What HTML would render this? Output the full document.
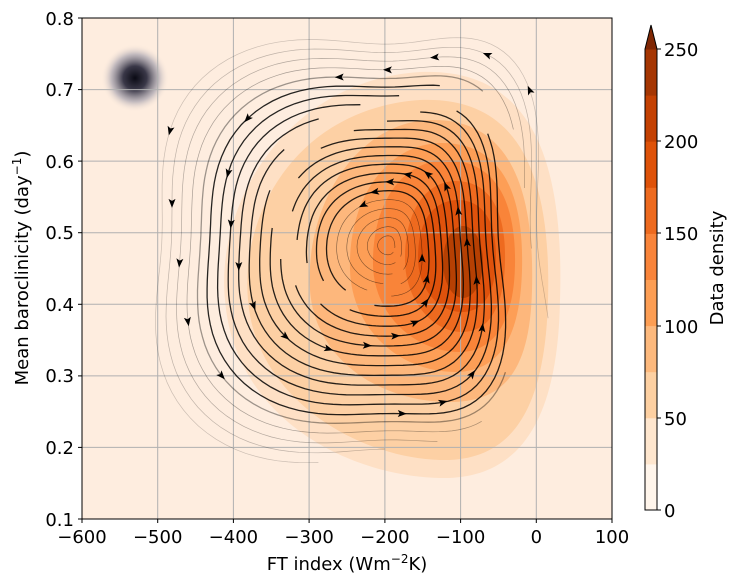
<!DOCTYPE html>
<html><head><meta charset="utf-8"><style>
body{margin:0;background:#fff;width:735px;height:583px;overflow:hidden;font-family:"DejaVu Sans","Liberation Sans",sans-serif}
</style></head><body>
<svg id="s" width="735" height="583" viewBox="0 0 735 583" xmlns="http://www.w3.org/2000/svg" font-family="DejaVu Sans, Liberation Sans, sans-serif">
<defs>
<radialGradient id="bk"><stop offset="0" stop-color="#0a0a14"/><stop offset="0.35" stop-color="#3a3848"/><stop offset="0.7" stop-color="#a8a4b0" stop-opacity="0.7"/><stop offset="1" stop-color="#feeddf" stop-opacity="0"/></radialGradient>
<clipPath id="cp"><rect x="82" y="18" width="530" height="501"/></clipPath>
</defs>
<rect x="82" y="18" width="530" height="501" fill="#feeddf"/>
<g clip-path="url(#cp)">
<path d="M225,300 C215,200 290,80 420,72 C520,68 565,140 560,300 C558,420 520,480 440,478 C350,476 235,420 225,300Z" fill="#fee0c5"/>
<path d="M248,300 C240,210 300,108 420,100 C510,96 552,160 548,300 C545,410 512,462 440,460 C360,458 256,400 248,300Z" fill="#fdd0a4"/>
<path d="M310,290 C305,200 360,122 430,120 C505,118 535,180 532,290 C530,370 505,402 450,402 C380,402 315,360 310,290Z" fill="#fdb77c"/>
<path d="M350,270 C348,200 385,145 440,143 C500,142 524,190 522,270 C520,340 498,372 455,372 C400,372 352,330 350,270Z" fill="#fd9e56"/>
<path d="M373,265 C372,205 400,162 445,160 C495,160 516,200 515,265 C514,320 495,352 460,352 C415,352 374,315 373,265Z" fill="#f98439"/>
<path d="M405,262 C404,212 425,182 455,181 C490,181 506,210 505,262 C504,305 490,332 462,332 C432,332 406,300 405,262Z" fill="#ee6a1f"/>
<path d="M418,258 C418,222 432,201 457,200 C484,200 496,222 496,258 C496,292 484,312 462,312 C438,312 418,288 418,258Z" fill="#df520c"/>
<ellipse cx="463" cy="262" rx="20" ry="36" fill="#b64003"/>
<circle cx="135" cy="78" r="34" fill="url(#bk)"/>
<g stroke="#b0b0b0" stroke-width="1">
<line x1="157.7" y1="18" x2="157.7" y2="519"/><line x1="233.4" y1="18" x2="233.4" y2="519"/><line x1="309.1" y1="18" x2="309.1" y2="519"/><line x1="384.9" y1="18" x2="384.9" y2="519"/><line x1="460.6" y1="18" x2="460.6" y2="519"/><line x1="536.3" y1="18" x2="536.3" y2="519"/>
<line x1="82" y1="89.6" x2="612" y2="89.6"/><line x1="82" y1="161.1" x2="612" y2="161.1"/><line x1="82" y1="232.7" x2="612" y2="232.7"/><line x1="82" y1="304.3" x2="612" y2="304.3"/><line x1="82" y1="375.9" x2="612" y2="375.9"/><line x1="82" y1="447.4" x2="612" y2="447.4"/>
</g>
<g id="stream" fill="none" stroke="#000"></g>
<g id="arr" fill="#000"></g>
</g>
<rect x="82" y="18" width="530" height="501" fill="none" stroke="#000" stroke-width="1"/>
<g stroke="#000"><line x1="78" y1="519" x2="82" y2="519"/><line x1="78" y1="447.4" x2="82" y2="447.4"/><line x1="78" y1="375.9" x2="82" y2="375.9"/><line x1="78" y1="304.3" x2="82" y2="304.3"/><line x1="78" y1="232.7" x2="82" y2="232.7"/><line x1="78" y1="161.1" x2="82" y2="161.1"/><line x1="78" y1="89.6" x2="82" y2="89.6"/><line x1="78" y1="18" x2="82" y2="18"/>
<line x1="82" y1="519" x2="82" y2="523"/><line x1="157.7" y1="519" x2="157.7" y2="523"/><line x1="233.4" y1="519" x2="233.4" y2="523"/><line x1="309.1" y1="519" x2="309.1" y2="523"/><line x1="384.9" y1="519" x2="384.9" y2="523"/><line x1="460.6" y1="519" x2="460.6" y2="523"/><line x1="536.3" y1="519" x2="536.3" y2="523"/><line x1="612" y1="519" x2="612" y2="523"/></g>
<g font-size="18" fill="#000">
<g text-anchor="end">
<text x="74" y="526">0.1</text><text x="74" y="454">0.2</text><text x="74" y="382">0.3</text><text x="74" y="311">0.4</text><text x="74" y="239">0.5</text><text x="74" y="168">0.6</text><text x="74" y="96">0.7</text><text x="74" y="25">0.8</text>
</g>
<g text-anchor="middle">
<text x="82" y="543">−600</text><text x="157.7" y="543">−500</text><text x="233.4" y="543">−400</text><text x="309.1" y="543">−300</text><text x="384.9" y="543">−200</text><text x="460.6" y="543">−100</text><text x="536.3" y="543">0</text><text x="612" y="543">100</text>
<text x="347" y="570">FT index (Wm<tspan font-size="12" dy="-7">−2</tspan><tspan dy="7">K)</tspan></text>
</g>
<text transform="translate(28,268) rotate(-90)" text-anchor="middle">Mean baroclinicity (day<tspan font-size="12" dy="-7">−1</tspan><tspan dy="7">)</tspan></text>
</g>
<g id="cb"></g>
<g stroke="#000" fill="none"><path d="M645,510 L645,49 L651,25 L657,49 L657,510 Z"/></g>
<g font-size="18" fill="#000">
<text x="664" y="517">0</text><text x="664" y="425">50</text><text x="664" y="333">100</text><text x="664" y="240">150</text><text x="664" y="148">200</text><text x="664" y="56">250</text>
<text transform="translate(723,268) rotate(-90)" text-anchor="middle">Data density</text>
</g>
<g stroke="#000"><line x1="657" y1="510" x2="661" y2="510"/><line x1="657" y1="418" x2="661" y2="418"/><line x1="657" y1="326" x2="661" y2="326"/><line x1="657" y1="233" x2="661" y2="233"/><line x1="657" y1="141" x2="661" y2="141"/><line x1="657" y1="49" x2="661" y2="49"/></g>
</svg>
<script>
var NS="http://www.w3.org/2000/svg";
var cols=["#fff5eb","#fee6ce","#fdd0a2","#fdb97d","#fd9e54","#f9843a","#ed6a1f","#de5209","#c44103","#a53603"];
var cb=document.getElementById("cb");
for(var i=0;i<10;i++){var r=document.createElementNS(NS,"rect");r.setAttribute("x",645);r.setAttribute("width",12);r.setAttribute("y",510-46.1*(i+1));r.setAttribute("height",46.6);r.setAttribute("fill",cols[i]);cb.appendChild(r);}
var t=document.createElementNS(NS,"path");t.setAttribute("d","M645,49.5 L651,25 L657,49.5Z");t.setAttribute("fill","#7f2704");cb.appendChild(t);
var g=document.getElementById("stream"),ag=document.getElementById("arr");
var cx=388,cy=245;
function pt(k,a){
  var L=235*k,R=150*k,T=205*k,B=225*k;
  var c=Math.cos(a),s=Math.sin(a);
  var rx=L*(1-c)/2+R*(1+c)/2, ry=T*(1-s)/2+B*(1+s)/2;
  var s2=Math.sin(2*a);var sq=1+0.22*k*s2*s2;
  return [cx+rx*c*sq+15*k*s*c, cy+ry*s*sq];
}
var N=22;
for(var j=1;j<=N;j++){
  var k=j/N;
  var d="",pts=[];
  var a0=0.3*j, span=2*Math.PI*(k>0.8?0.75:0.92);
  for(var m=0;m<=120;m++){var a=a0-span*m/120;var kk=k*(1-0.05*m/120);var p=pt(kk,a);pts.push(p);d+=(m?"L":"M")+p[0].toFixed(1)+","+p[1].toFixed(1);}
  var e=document.createElementNS(NS,"path");e.setAttribute("d",d);
  var w=k<0.25?0.6:(k<0.85?1.3:0.7);var op=k<0.25?0.5:(k<0.8?0.85:(1.2-k));
  e.setAttribute("stroke-width",w);e.setAttribute("stroke-opacity",op);g.appendChild(e);
  [25,75].forEach(function(ix){var p1=pts[ix],p2=pts[ix+2];var an=Math.atan2(p2[1]-p1[1],p2[0]-p1[0]);
    var ar=document.createElementNS(NS,"path");
    ar.setAttribute("d","M6,0 L-3,-3.5 L-1,0 L-3,3.5Z");
    ar.setAttribute("transform","translate("+p1[0].toFixed(1)+","+p1[1].toFixed(1)+") rotate("+(an*180/Math.PI).toFixed(1)+")");
    if(k>0.2)ag.appendChild(ar);});
}
</script>
</body></html>
